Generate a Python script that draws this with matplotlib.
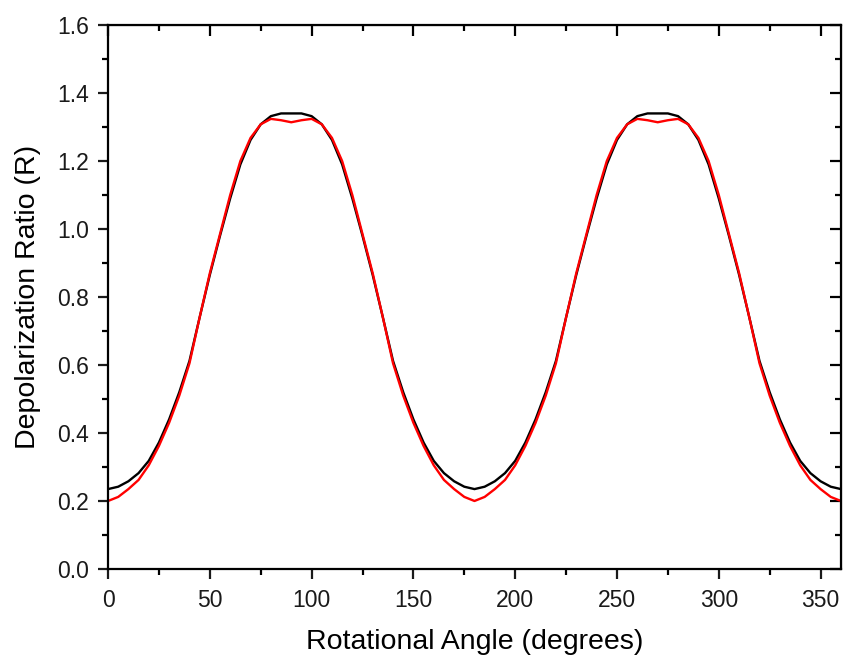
import matplotlib
matplotlib.use("Agg")
from matplotlib import pyplot as plt
from matplotlib.ticker import MultipleLocator, FormatStrFormatter

plt.rcParams["font.family"] = ["Liberation Sans", "DejaVu Sans"]

# rotational angle (degrees), every 5 degrees
angle = list(range(0, 365, 5))

# black curve
r_black = [
    0.235, 0.242, 0.258, 0.282, 0.318, 0.372, 0.440, 0.520, 0.612, 0.740,
    0.865, 0.980, 1.090, 1.190, 1.262, 1.308, 1.332, 1.340, 1.340, 1.340,
    1.332, 1.308, 1.262, 1.190, 1.090, 0.980, 0.865, 0.740, 0.612, 0.520,
    0.440, 0.372, 0.318, 0.282, 0.258, 0.242, 0.235, 0.242, 0.258, 0.282,
    0.318, 0.372, 0.440, 0.520, 0.612, 0.740, 0.865, 0.980, 1.090, 1.190,
    1.262, 1.308, 1.332, 1.340, 1.340, 1.340, 1.332, 1.308, 1.262, 1.190,
    1.090, 0.980, 0.865, 0.740, 0.612, 0.520, 0.440, 0.372, 0.318, 0.282,
    0.258, 0.242, 0.235,
]

# red curve
r_red = [
    0.200, 0.212, 0.235, 0.262, 0.305, 0.362, 0.430, 0.510, 0.605, 0.740,
    0.870, 0.985, 1.100, 1.200, 1.268, 1.308, 1.324, 1.320, 1.314, 1.320,
    1.324, 1.308, 1.268, 1.200, 1.100, 0.985, 0.870, 0.740, 0.605, 0.510,
    0.430, 0.362, 0.305, 0.262, 0.235, 0.212, 0.200, 0.212, 0.235, 0.262,
    0.305, 0.362, 0.430, 0.510, 0.605, 0.740, 0.870, 0.985, 1.100, 1.200,
    1.268, 1.308, 1.324, 1.320, 1.314, 1.320, 1.324, 1.308, 1.268, 1.200,
    1.100, 0.985, 0.870, 0.740, 0.605, 0.510, 0.430, 0.362, 0.305, 0.262,
    0.235, 0.212, 0.200,
]

fig = plt.figure(figsize=(8.46, 6.59), dpi=100)
ax = fig.add_axes([0.1277, 0.1366, 0.8663, 0.8254])

ax.plot(angle, r_black, color="black", linewidth=1.7)
ax.plot(angle, r_red, color="red", linewidth=1.7)

ax.set_xlim(0, 360)
ax.set_ylim(0, 1.6)
ax.xaxis.set_major_locator(MultipleLocator(50))
ax.xaxis.set_minor_locator(MultipleLocator(25))
ax.yaxis.set_major_locator(MultipleLocator(0.2))
ax.yaxis.set_minor_locator(MultipleLocator(0.1))
ax.yaxis.set_major_formatter(FormatStrFormatter("%.1f"))

for s in ax.spines.values():
    s.set_linewidth(1.6)

ax.tick_params(which="major", direction="out", length=7.5, width=1.6,
               labelsize=16.5, colors="#1a1a1a")
ax.tick_params(axis="x", which="major", pad=7)
ax.tick_params(axis="y", which="major", pad=6)
ax.tick_params(which="minor", direction="out", length=4, width=1.6)

# inward ticks on top and right
top = ax.secondary_xaxis("top")
top.xaxis.set_major_locator(MultipleLocator(50))
top.xaxis.set_minor_locator(MultipleLocator(25))
top.tick_params(which="major", direction="in", length=8, width=1.6, labeltop=False)
top.tick_params(which="minor", direction="in", length=4, width=1.6)
right = ax.secondary_yaxis("right")
right.yaxis.set_major_locator(MultipleLocator(0.2))
right.yaxis.set_minor_locator(MultipleLocator(0.1))
right.tick_params(which="major", direction="in", length=8, width=1.6, labelright=False)
right.tick_params(which="minor", direction="in", length=4, width=1.6)

ax.set_xlabel("Rotational Angle (degrees)", fontsize=20.5, labelpad=12)
ax.set_ylabel("Depolarization Ratio (R)", fontsize=20.5, labelpad=12)

fig.savefig("out.png", dpi=100)
